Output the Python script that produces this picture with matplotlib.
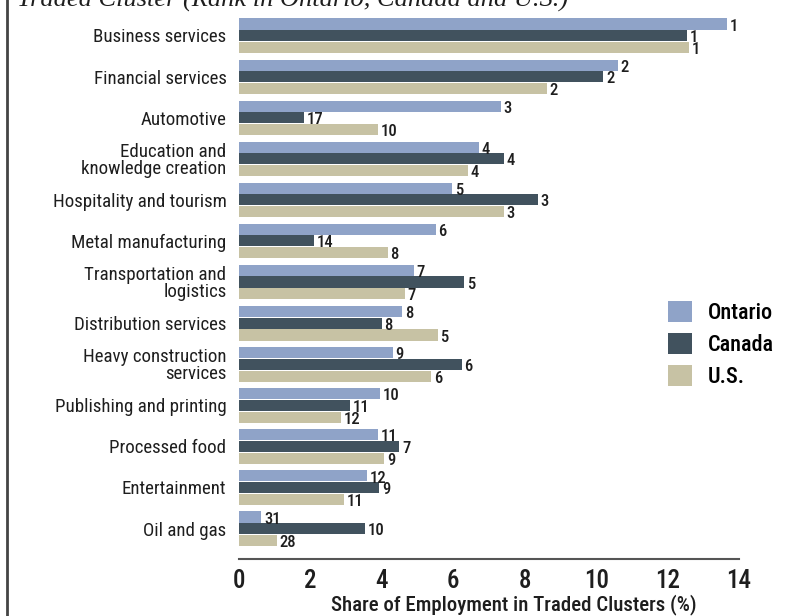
import matplotlib
matplotlib.use("Agg")
import matplotlib.pyplot as plt
from matplotlib import font_manager as fm
import numpy as np
from matplotlib.lines import Line2D
from matplotlib.patches import Patch

# pick a narrow sans if one is around
installed = {(f.name, f.stretch) for f in fm.fontManager.ttflist}
names = {n for n, s in installed}
fam = "DejaVu Sans"
narrow = False
for cand in ["Roboto Condensed", "Open Sans Condensed", "Liberation Sans Narrow",
             "Noto Sans Condensed", "DejaVu Sans Condensed"]:
    if cand in names:
        fam, narrow = cand, True
        break
plt.rcParams['font.family'] = [fam, 'DejaVu Sans']
k = 1.0 if narrow else 0.85

# data
clusters = ["Business services", "Financial services", "Automotive",
            "Education and\nknowledge creation", "Hospitality and tourism",
            "Metal manufacturing", "Transportation and\nlogistics",
            "Distribution services", "Heavy construction\nservices",
            "Publishing and printing", "Processed food", "Entertainment",
            "Oil and gas"]
ontario = [13.66, 10.61, 7.33, 6.71, 5.97, 5.51, 4.90, 4.56, 4.31, 3.95, 3.90, 3.57, 0.62]
canada = [12.54, 10.20, 1.82, 7.41, 8.37, 2.11, 6.31, 3.99, 6.23, 3.10, 4.49, 3.92, 3.54]
us = [12.61, 8.61, 3.88, 6.40, 7.41, 4.16, 4.64, 5.56, 5.38, 2.85, 4.07, 2.95, 1.06]
rank_on = [1, 2, 3, 4, 5, 6, 7, 8, 9, 10, 11, 12, 31]
rank_ca = [1, 2, 17, 4, 3, 14, 5, 8, 6, 11, 7, 9, 10]
rank_us = [1, 2, 10, 4, 3, 8, 7, 5, 6, 12, 9, 11, 28]
series_names = ["Ontario", "Canada", "U.S."]
colors = ["#8fa3c8", "#41525e", "#c7c2a4"]
xticks = [0, 2, 4, 6, 8, 10, 12, 14]

txt = "#1e1e1e"
fig = plt.figure(figsize=(8.03, 6.16), dpi=100)
ax = fig.add_axes([239 / 803, 57 / 616, 500 / 803, 545 / 616])

y = np.arange(len(clusters))
h = 0.27
offs = [-0.28, 0.0, 0.29]
for vals, ranks, off, c in zip([ontario, canada, us], [rank_on, rank_ca, rank_us], offs, colors):
    bars = ax.barh(y + off, vals, height=h, color=c)
    for b, r in zip(bars, ranks):
        ax.annotate(str(r), (b.get_width(), b.get_y() + b.get_height() / 2),
                    xytext=(2, -1.5), textcoords="offset points",
                    ha="left", va="center", fontsize=12 * k, color=txt,
                    fontweight="medium")

ax.set_xlim(0, 14)
ax.set_ylim(12.742, -0.523)
ax.set_yticks(y)
ax.set_yticklabels(clusters, fontsize=13.6 * k, linespacing=0.92, color=txt)
ax.set_xticks(xticks)
ax.set_xticklabels([str(t) for t in xticks], fontsize=18 * k, color=txt,
                   fontweight="medium")
ax.tick_params(axis="y", length=0, pad=9)
ax.tick_params(axis="x", length=0, pad=7)
for s in ["top", "right", "left"]:
    ax.spines[s].set_visible(False)
ax.spines["bottom"].set_color("#555555")
ax.spines["bottom"].set_linewidth(1.5)
ax.set_xlabel("Share of Employment in Traded Clusters (%)", fontsize=15 * k,
              color=txt, fontweight="medium")
ax.xaxis.set_label_coords(0.55, -0.064)

handles = [Patch(facecolor=c, edgecolor="none") for c in colors]
ax.legend(handles, series_names, loc="upper left", bbox_to_anchor=(0.818, 0.51),
          frameon=False, prop={"size": 16 * k, "weight": "medium"},
          handlelength=1.1 / k, handleheight=1.05 / k,
          labelspacing=0.42, handletextpad=0.7)

fig.add_artist(Line2D([7 / 803, 7 / 803], [0, 1], color="#444444", lw=2))
fig.text(17 / 803, 1 - 7 / 616, "Traded Cluster (Rank in Ontario, Canada and U.S.)",
         family=["Liberation Serif", "DejaVu Serif"], style="italic",
         fontsize=19, va="baseline", ha="left", color=txt)

fig.savefig("out.png", dpi=100)
